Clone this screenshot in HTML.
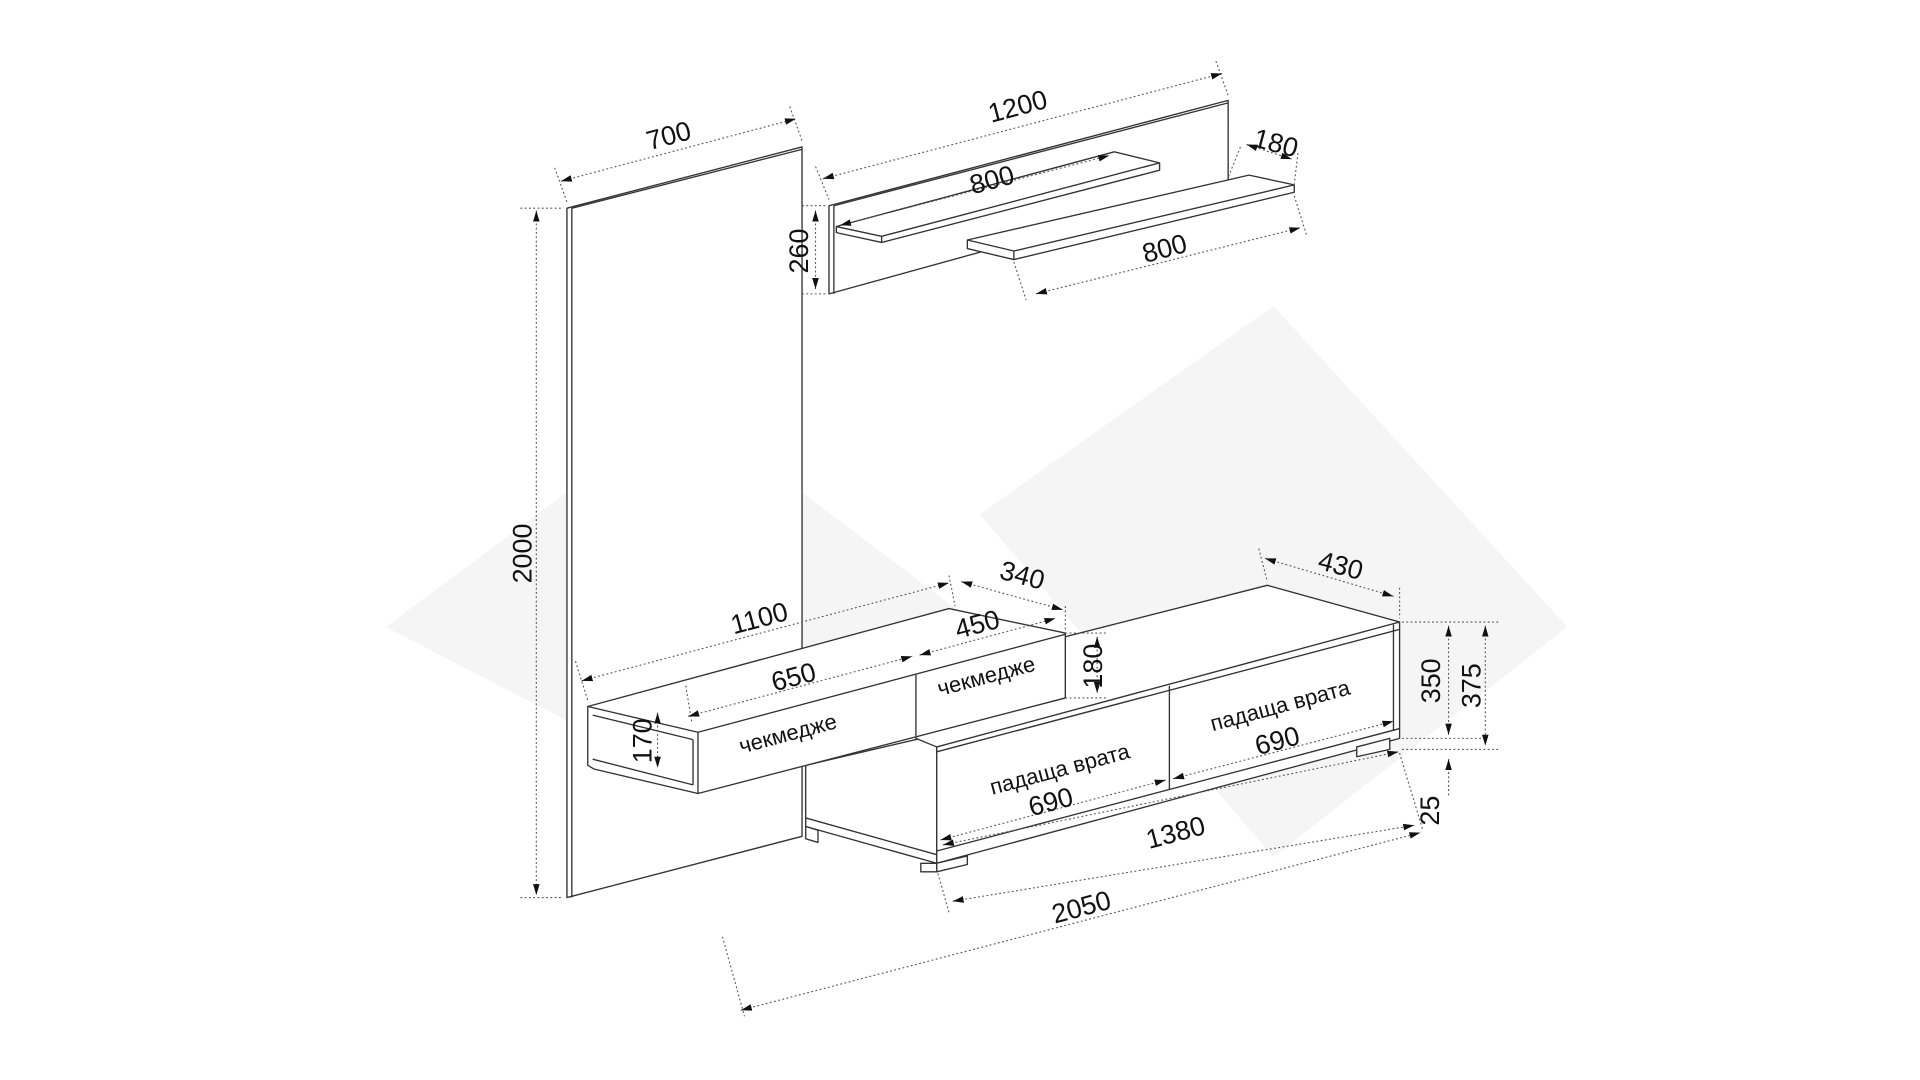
<!DOCTYPE html>
<html><head><meta charset="utf-8"><style>
html,body{margin:0;padding:0;background:#fff;width:1920px;height:1080px;overflow:hidden}
svg{display:block}
text{font-family:"Liberation Sans","DejaVu Sans",sans-serif;fill:#111}
</style></head><body>
<svg width="1920" height="1080" viewBox="0 0 1568 882" xmlns="http://www.w3.org/2000/svg">
<defs>
<marker id="a" viewBox="0 0 10 10" refX="10" refY="5" markerWidth="9" markerHeight="9" markerUnits="userSpaceOnUse" orient="auto-start-reverse"><path d="M0,2 L10,5 L0,8z" fill="#111"/></marker>
</defs>
<!-- watermark diamonds -->
<g fill="#f5f5f5">
<polygon points="315,512 560,330 800,512 640,680"/>
<polygon points="800,420 1040,250 1280,512 1040,700"/>
</g>
<!-- shapes -->
<g fill="#fff" stroke="#333" stroke-width="1.1" stroke-linejoin="round">
<!-- tall panel -->
<polygon points="463,170 655,120 655,683 463,733"/>
<line x1="467" y1="170" x2="467" y2="733"/>
<line x1="467" y1="170" x2="655" y2="122"/>
<!-- wall shelf back -->
<polygon points="677,168 1003,82 1003,150 677,240"/>
<line x1="681" y1="168" x2="681" y2="240"/>
<line x1="681" y1="168" x2="1003" y2="84"/>
<!-- upper shelf -->
<polygon points="683,185 910,124 947,133 947,139 720,198 683,190"/>
<line x1="683" y1="185" x2="720" y2="193"/>
<line x1="720" y1="193" x2="947" y2="133"/>
<line x1="720" y1="193" x2="720" y2="198"/>
<!-- lower shelf -->
<polygon points="790,196 1020,143 1057,151 1057,157 828,212 790,203"/>
<line x1="790" y1="196" x2="828" y2="205"/>
<line x1="828" y1="205" x2="1057" y2="151"/>
<line x1="828" y1="205" x2="828" y2="212"/>
<!-- tv cabinet left side -->
<polygon points="658,625 765,600 765,705 658,675"/>
<line x1="658" y1="668" x2="765" y2="698"/>
<polygon points="658,675 668,678 668,688 658,685"/>
<!-- tv cabinet -->
<polygon points="765,610 748,603 748,601 870,570 870,520 1035,478 1143,508 1143,603 765,705"/>
<line x1="765" y1="610" x2="1143" y2="508"/>
<line x1="765" y1="614" x2="1143" y2="514"/>
<line x1="765" y1="695" x2="1143" y2="595"/>
<line x1="955" y1="560" x2="955" y2="645"/>
<line x1="1138" y1="510" x2="1138" y2="597"/>
<polygon points="752,705 765,705 765,712 752,712"/>
<polygon points="765,705 790,699 790,706 765,712"/>
<polygon points="1108,610 1135,603 1135,612 1108,618"/>
<!-- console -->
<polygon points="480,577 775,497 870,517 870,570 570,648 485,628 480,625"/>
<line x1="480" y1="577" x2="570" y2="598"/>
<line x1="570" y1="598" x2="870" y2="518"/>
<line x1="484" y1="584" x2="566" y2="604"/>
<line x1="484" y1="620" x2="566" y2="641"/>
<line x1="570" y1="598" x2="570" y2="648"/>
<line x1="748" y1="551" x2="748" y2="601"/>
<line x1="566" y1="604" x2="566" y2="641"/>
</g>
<!-- dimension lines -->
<g stroke="#555" stroke-width="0.9" stroke-dasharray="1.5,2" fill="none">
<line x1="453" y1="137" x2="463" y2="165"/><line x1="645" y1="87" x2="655" y2="115"/>
<line x1="666" y1="136" x2="677" y2="163"/><line x1="993" y1="50" x2="1003" y2="78"/>
<line x1="425" y1="170" x2="460" y2="170"/><line x1="425" y1="733" x2="460" y2="733"/>
<line x1="655" y1="168" x2="675" y2="168"/><line x1="655" y1="240" x2="675" y2="240"/>
<line x1="1013" y1="120" x2="1003" y2="145"/><line x1="1060" y1="125" x2="1057" y2="150"/>
<line x1="1057" y1="160" x2="1067" y2="192"/><line x1="828" y1="214" x2="838" y2="245"/>
<line x1="470" y1="540" x2="480" y2="572"/>
<line x1="775" y1="470" x2="780" y2="495"/><line x1="870" y1="495" x2="870" y2="515"/>
<line x1="1028" y1="448" x2="1035" y2="475"/><line x1="1143" y1="480" x2="1143" y2="505"/>
<line x1="1145" y1="508" x2="1225" y2="508"/><line x1="1145" y1="603" x2="1215" y2="603"/>
<line x1="1145" y1="612" x2="1225" y2="612"/>
<line x1="870" y1="517" x2="905" y2="517"/><line x1="870" y1="570" x2="905" y2="570"/>
<line x1="1143" y1="615" x2="1162" y2="678"/>
<line x1="765" y1="710" x2="775" y2="745"/>
<line x1="590" y1="765" x2="608" y2="830"/>
<line x1="560" y1="560" x2="565" y2="590"/>
</g>
<g stroke="#555" stroke-width="0.9" stroke-dasharray="1.5,2" fill="none" marker-start="url(#a)" marker-end="url(#a)">
<line x1="458" y1="148" x2="650" y2="97"/>
<line x1="672" y1="146" x2="998" y2="60"/>
<line x1="438" y1="172" x2="438" y2="731"/>
<line x1="666" y1="172" x2="666" y2="236"/>
<line x1="686" y1="184" x2="906" y2="127"/>
<line x1="846" y1="240" x2="1062" y2="186"/>
<line x1="1018" y1="118" x2="1055" y2="130"/>
<line x1="475" y1="556" x2="775" y2="476"/>
<line x1="785" y1="475" x2="868" y2="498"/>
<line x1="562" y1="585" x2="745" y2="536"/>
<line x1="751" y1="535" x2="862" y2="505"/>
<line x1="896" y1="520" x2="896" y2="566"/>
<line x1="537" y1="582" x2="537" y2="627"/>
<line x1="1033" y1="456" x2="1138" y2="487"/>
<line x1="1183" y1="511" x2="1183" y2="600"/>
<line x1="1213" y1="511" x2="1213" y2="609"/>
<line x1="768" y1="686" x2="952" y2="637"/>
<line x1="958" y1="636" x2="1138" y2="589"/>
<line x1="770" y1="690" x2="1142" y2="614"/>
<line x1="778" y1="736" x2="1155" y2="674"/>
<line x1="605" y1="825" x2="1160" y2="680"/>
</g>
<line x1="1183" y1="620" x2="1183" y2="650" stroke="#555" stroke-dasharray="1.5,2" marker-start="url(#a)"/>
<!-- labels -->
<g font-size="22">
<text transform="translate(548,118) rotate(-15)" text-anchor="middle">700</text>
<text transform="translate(833,94) rotate(-15)" text-anchor="middle">1200</text>
<text transform="translate(812,154) rotate(-15)" text-anchor="middle">800</text>
<text transform="translate(953,210) rotate(-15)" text-anchor="middle">800</text>
<text transform="translate(1040,124) rotate(15)" text-anchor="middle">180</text>
<text transform="translate(660,205) rotate(-90)" text-anchor="middle">260</text>
<text transform="translate(434,452) rotate(-90)" text-anchor="middle">2000</text>
<text transform="translate(622,512) rotate(-15)" text-anchor="middle">1100</text>
<text transform="translate(833,477) rotate(15)" text-anchor="middle">340</text>
<text transform="translate(800,517) rotate(-15)" text-anchor="middle">450</text>
<text transform="translate(650,560) rotate(-15)" text-anchor="middle">650</text>
<text transform="translate(900,544) rotate(-90)" text-anchor="middle">180</text>
<text transform="translate(532,605) rotate(-90)" text-anchor="middle">170</text>
<text transform="translate(1093,469) rotate(15)" text-anchor="middle">430</text>
<text transform="translate(1176,556) rotate(-90)" text-anchor="middle">350</text>
<text transform="translate(1209,560) rotate(-90)" text-anchor="middle">375</text>
<text transform="translate(1175,662) rotate(-90)" text-anchor="middle">25</text>
<text transform="translate(1045,612) rotate(-15)" text-anchor="middle">690</text>
<text transform="translate(860,662) rotate(-15)" text-anchor="middle">690</text>
<text transform="translate(962,687) rotate(-15)" text-anchor="middle">1380</text>
<text transform="translate(885,748) rotate(-15)" text-anchor="middle">2050</text>
</g>
<g font-size="18">
<text transform="translate(645,605) rotate(-15)" text-anchor="middle">чекмедже</text>
<text transform="translate(807,558) rotate(-15)" text-anchor="middle">чекмедже</text>
<text transform="translate(867,634) rotate(-15)" text-anchor="middle">падаща врата</text>
<text transform="translate(1047,582) rotate(-15)" text-anchor="middle">падаща врата</text>
</g>
</svg>
</body></html>
